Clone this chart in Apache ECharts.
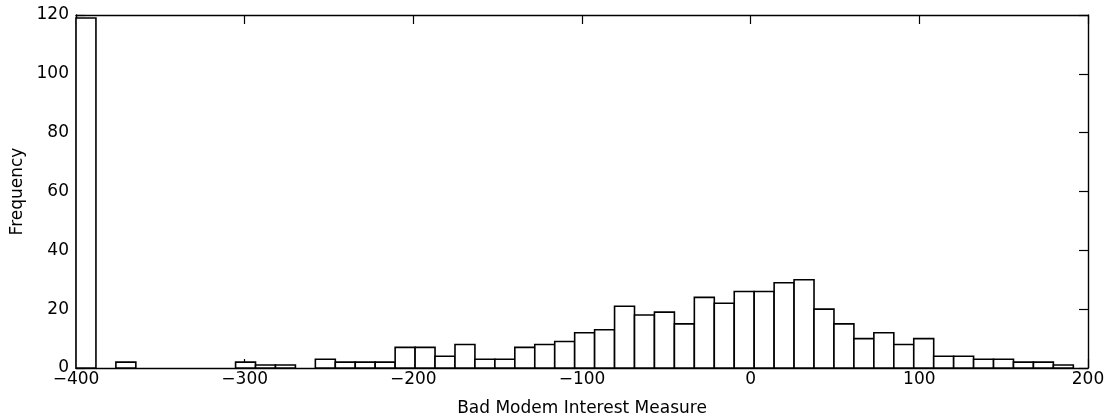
<!DOCTYPE html>
<html>
<head>
<meta charset="utf-8">
<script src="https://cdn.jsdelivr.net/npm/echarts@6/dist/echarts.min.js"></script>
<style>
  html, body { margin: 0; padding: 0; background: #fff; }
  #chart { width: 1111px; height: 418px; }
</style>
</head>
<body>
<div id="chart"></div>
<script>
// Histogram: 50 equal-width bins spanning the data range
const binMin = -400;
const binMax = 191.3;
const counts = [
  119, 0, 2, 0, 0, 0, 0, 0, 2, 1,
  1, 0, 3, 2, 2, 2, 7, 7, 4, 8,
  3, 3, 7, 8, 9, 12, 13, 21, 18, 19,
  15, 24, 22, 26, 26, 29, 30, 20, 15, 10,
  12, 8, 10, 4, 4, 3, 3, 2, 2, 1
];
const xTicks = { min: -400, max: 200, interval: 100 };
const yTicks = { min: 0, max: 120, interval: 20 };
const xTitle = 'Bad Modem Interest Measure';
const yTitle = 'Frequency';

const binWidth = (binMax - binMin) / counts.length;
const histData = counts.map((c, i) => [binMin + i * binWidth, binMin + (i + 1) * binWidth, c]);

const FONT = 'DejaVu Sans';
const fmt = v => String(v).replace('-', '\u2212');

const chart = echarts.init(document.getElementById('chart'), null, { renderer: 'canvas' });
const axisLine = { show: true, onZero: false, lineStyle: { color: '#000', width: 1.4 } };
const tickStyle = { show: true, inside: true, length: 9, lineStyle: { color: '#000', width: 1.2 } };

chart.setOption({
  animation: false,
  backgroundColor: '#fff',
  grid: { left: 76, right: 23, top: 15, bottom: 50, containLabel: false, outerBoundsMode: 'none' },
  xAxis: [
    {
      type: 'value', position: 'bottom',
      min: xTicks.min, max: xTicks.max, interval: xTicks.interval,
      name: xTitle, nameLocation: 'middle', nameGap: 32,
      nameTextStyle: { fontFamily: FONT, fontSize: 17, color: '#000' },
      axisLine: axisLine,
      axisTick: tickStyle,
      axisLabel: { fontFamily: FONT, fontSize: 17, color: '#000', margin: 3, formatter: fmt },
      splitLine: { show: false }
    },
    {
      type: 'value', position: 'top',
      min: xTicks.min, max: xTicks.max, interval: xTicks.interval,
      axisLine: axisLine,
      axisTick: tickStyle,
      axisLabel: { show: false },
      splitLine: { show: false }
    }
  ],
  yAxis: [
    {
      type: 'value', position: 'left',
      min: yTicks.min, max: yTicks.max, interval: yTicks.interval,
      name: yTitle, nameLocation: 'middle', nameGap: 47, nameRotate: 90,
      nameTextStyle: { fontFamily: FONT, fontSize: 17, color: '#000' },
      axisLine: axisLine,
      axisTick: tickStyle,
      axisLabel: { fontFamily: FONT, fontSize: 17, color: '#000', margin: 7 },
      splitLine: { show: false }
    },
    {
      type: 'value', position: 'right',
      min: yTicks.min, max: yTicks.max, interval: yTicks.interval,
      axisLine: axisLine,
      axisTick: tickStyle,
      axisLabel: { show: false },
      splitLine: { show: false }
    }
  ],
  series: [
    {
      type: 'custom',
      xAxisIndex: 0, yAxisIndex: 0,
      encode: { x: [0, 1], y: 2 },
      data: histData,
      renderItem: function (params, api) {
        const h = api.value(2);
        if (!h) return null;
        const p0 = api.coord([api.value(0), h]);
        const p1 = api.coord([api.value(1), 0]);
        return {
          type: 'rect',
          shape: { x: p0[0], y: p0[1], width: p1[0] - p0[0], height: p1[1] - p0[1] },
          style: { fill: '#fff', stroke: '#000', lineWidth: 1.6 }
        };
      }
    }
  ]
});
</script>
</body>
</html>
